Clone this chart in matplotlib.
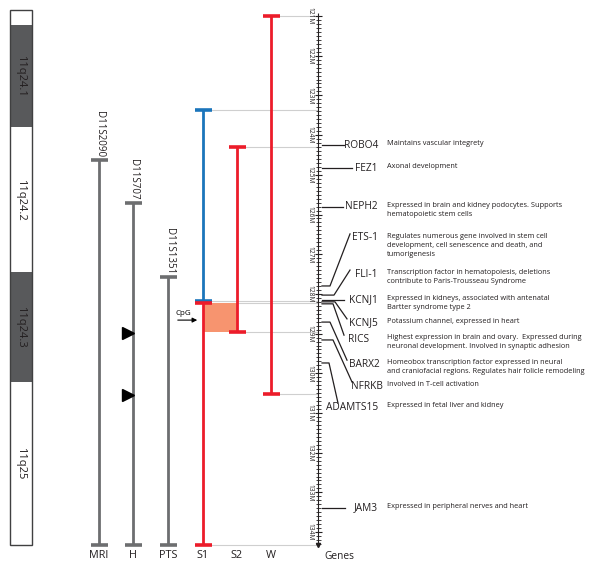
import matplotlib
matplotlib.use("Agg")
import matplotlib.pyplot as plt
from matplotlib.patches import Rectangle

plt.rcParams["font.family"] = ["Open Sans", "DejaVu Sans"]

# --- data (positions in Mb along chromosome 11q) ---
bands = ["", "11q24.1", "11q24.2", "11q24.3", "11q25"]
band_start = [120.85, 121.23, 123.80, 127.45, 130.22]
band_end = [121.23, 123.80, 127.45, 130.22, 134.33]
band_dark = [False, True, False, True, False]

markers = ["D11S2090", "D11S707", "D11S1351"]
marker_top = [124.63, 125.71, 127.57]
marker_bottom = [134.33, 134.33, 134.33]

patients = ["MRI", "H", "PTS", "S1", "S2", "W"]
s1_blue = (123.37, 128.18)
s1_red = (128.23, 134.33)
s2_red = (124.30, 128.96)
w_red = (121.00, 130.52)
cpg_region = (128.23, 128.96)
cpg_arrow_y = 128.66
triangle_y = [128.98, 130.55]

ruler_start, ruler_end = 120.92, 134.33
ruler_major = list(range(121, 135))

genes = ["ROBO4", "FEZ1", "NEPH2", "ETS-1", "FLI-1", "KCNJ1", "KCNJ5",
         "RICS", "BARX2", "NFRKB", "ADAMTS15", "JAM3"]
gene_pos = [124.25, 124.83, 125.81, 127.80, 128.03, 128.15, 128.20,
            128.25, 128.71, 129.16, 129.74, 133.39]
label_pos = [124.25, 124.83, 125.81, 126.59, 127.50, 128.15, 128.73,
             129.14, 129.77, 130.32, 130.85, 133.39]
gene_desc = [
    "Maintains vascular integrety",
    "Axonal development",
    "Expressed in brain and kidney podocytes. Supports\nhematopoietic stem cells",
    "Regulates numerous gene involved in stem cell\ndevelopment, cell senescence and death, and\ntumorigenesis",
    "Transcription factor in hematopoiesis, deletions\ncontribute to Paris-Trousseau Syndrome",
    "Expressed in kidneys, associated with antenatal\nBartter syndrome type 2",
    "Potassium channel, expressed in heart",
    "Highest expression in brain and ovary.  Expressed during\nneuronal development. Involved in synaptic adhesion",
    "Homeobox transcription factor expressed in neural\nand craniofacial regions. Regulates hair folicle remodeling",
    "Involved in T-cell activation",
    "Expressed in fetal liver and kidney",
    "Expressed in peripheral nerves and heart",
]

# --- layout (x in pixels) ---
x_ideo = (10, 32)
x_cols = [99, 133, 168, 203, 237, 271]
x_ruler = 318
x_genes_lbl = 339
conn_a = [344, 352, 343, 330, 334, 344, 335, 333, 330, 333, 329, 345]
conn_b = [344, 352, 343, 350, 350, 344, 347, 344, 347, 352, 338, 345]
lbl_right = [378, 378, 378, 378, 378, 378, 378, 369, 380, 383, 378, 378]
x_desc = 387

RED = "#ec1c2a"
BLUE = "#1b75bb"
GRAY = "#6d6e70"
LIGHT = "#cfcfcf"
SALMON = "#f7946f"
INK = "#231f20"
MBPX = 1 / 39.7  # Mb per pixel

fig = plt.figure(figsize=(6, 5.77), dpi=100)
ax = fig.add_axes([0, 0, 1, 1])
ax.set_xlim(0, 600)
ax.set_ylim(121 + 561 * MBPX, 121 - 16 * MBPX)
ax.axis("off")

# chromosome ideogram
for name, s, e, dark in zip(bands, band_start, band_end, band_dark):
    ax.add_patch(Rectangle((x_ideo[0], s), x_ideo[1] - x_ideo[0], e - s,
                           facecolor="#58595b" if dark else "white",
                           edgecolor="none"))
    if name:
        ax.text(sum(x_ideo) / 2, (s + e) / 2, name, rotation=270, fontsize=8,
                ha="center", va="center", color=INK)
ax.add_patch(Rectangle((x_ideo[0], band_start[0]), x_ideo[1] - x_ideo[0],
                       band_end[-1] - band_start[0], facecolor="none",
                       edgecolor="#404041", lw=1))


def bar(x, top, bottom, color, lw=2.0):
    ax.vlines(x, top, bottom, color=color, lw=lw)
    ax.hlines([top, bottom], x - 8.5, x + 8.5, color=color, lw=lw + 0.6)


# gray guide lines to ruler
for x, y in [(x_cols[5], w_red[0]), (x_cols[3], s1_blue[0]), (x_cols[4], s2_red[0]),
             (x_cols[3], s1_blue[1]), (x_cols[3], s1_red[0]), (x_cols[4], s2_red[1]),
             (x_cols[5], w_red[1]), (x_cols[3], s1_red[1])]:
    ax.hlines(y, x, x_ruler, color=LIGHT, lw=0.8, zorder=1)

# CpG region
ax.add_patch(Rectangle((x_cols[3], cpg_region[0]), x_cols[4] - x_cols[3],
                       cpg_region[1] - cpg_region[0], facecolor=SALMON,
                       edgecolor="none", zorder=2))

# microsatellite markers
for x, name, t, b in zip(x_cols[:3], markers, marker_top, marker_bottom):
    bar(x, t, b, GRAY)
    ax.text(x + 1, t - 3 * MBPX, name, rotation=270, fontsize=7,
            ha="center", va="bottom", color=INK)

# deletions
bar(x_cols[3], s1_blue[0], s1_blue[1], BLUE)
bar(x_cols[3], s1_red[0], s1_red[1], RED)
bar(x_cols[4], s2_red[0], s2_red[1], RED)
bar(x_cols[5], w_red[0], w_red[1], RED)

# triangles on H
ax.plot([127.8] * len(triangle_y), triangle_y, ls="none", marker=">",
        ms=9, color="black")

# CpG arrow
ax.annotate("", xy=(x_cols[3] - 3, cpg_arrow_y), xytext=(175, cpg_arrow_y),
            arrowprops=dict(arrowstyle="-|>", color="black", lw=0.8,
                            mutation_scale=7))
ax.text(183, cpg_arrow_y - 3 * MBPX, "CpG", fontsize=5.8, ha="center",
        va="bottom")

# ruler
ax.vlines(x_ruler, ruler_start, ruler_end, color=INK, lw=0.8)
n_minor = int(round((ruler_end - 121.0) * 10))
minor = [121.0 + i / 10 for i in range(n_minor + 1)]
ax.hlines(minor, x_ruler - 2.5, x_ruler + 2.5, color=INK, lw=0.6)
ax.hlines(ruler_major, x_ruler - 3.5, x_ruler + 3.5, color=INK, lw=0.8)
for m in ruler_major:
    ax.text(x_ruler - 8.5, m, f"{m}M", rotation=270, fontsize=4.8,
            ha="center", va="center", color=INK)
ax.plot([x_ruler], [ruler_end], marker="v", ms=3, color=INK)

# genes
for g, gp, lp, a, b, r, d in zip(genes, gene_pos, label_pos, conn_a, conn_b,
                                 lbl_right, gene_desc):
    if a == b:
        ax.plot([322, a], [gp, gp], color=INK, lw=0.9)
    else:
        ax.plot([322, a, b], [gp, gp, lp - 4 * MBPX], color=INK, lw=0.9)
    ax.text(r, lp, g, fontsize=7.3, ha="right", va="center", color=INK)
    ax.text(x_desc, lp - 5 * MBPX, d, fontsize=5.35, ha="left", va="top",
            linespacing=1.4, color=INK)

# column labels
for x, name in zip(x_cols, patients):
    ax.text(x, 121 + 540 * MBPX, name, fontsize=7.8, ha="center", va="center",
            color=INK)
ax.text(x_genes_lbl, 121 + 541 * MBPX, "Genes", fontsize=7.3, ha="center",
        va="center", color=INK)

fig.savefig("out.png", dpi=100)
